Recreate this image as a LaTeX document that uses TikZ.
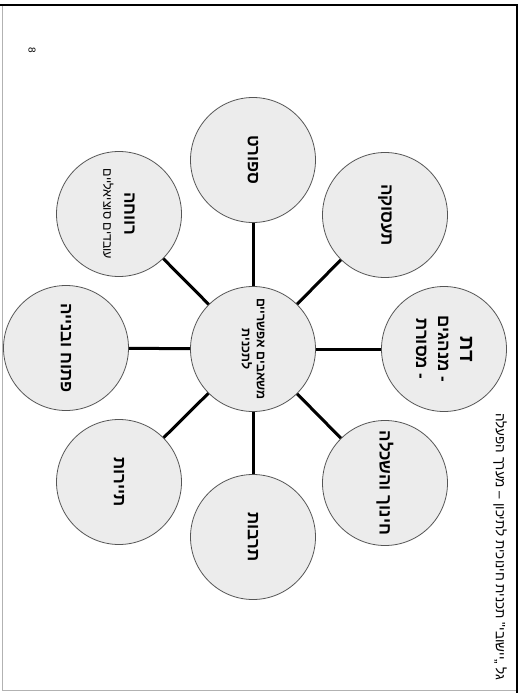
\documentclass[tikz,border=0pt]{standalone}
\usepackage{fontspec}
\usepackage{xcolor}
\usepackage{tikz}
\setmainfont{Liberation Sans}
\newfontfamily\hebfont[Script=Hebrew]{Liberation Sans}
\TeXXeTstate=1
\newcommand{\heb}[1]{\beginR #1\endR}
\definecolor{bubblefill}{HTML}{ECECEC}
\definecolor{bubbleline}{HTML}{555555}

\begin{document}
\begin{tikzpicture}[x=1pt, y=-1pt,
    bubble/.style={draw=bubbleline, line width=0.8pt, circle, fill=bubblefill,
      minimum size=125pt, inner sep=0pt, rotate=-90, align=center,
      font=\hebfont\bfseries\fontsize{17}{20}\selectfont},
    spoke/.style={line width=3pt, black}]
    \useasboundingbox (0,0) rectangle (524,693);
    \fill[white] (0,0) rectangle (524,693);
    \draw[gray!60, line width=0.6pt] (2,5) -- (2,690) -- (517,690);
    \draw[black, line width=1.5pt] (0,5) -- (517,5) -- (517,693);

    \node[rotate=-90, font=\fontsize{10}{12}\selectfont] (pagenum) at (32,50) {8};
    \node[rotate=-90, anchor=east, font=\hebfont\fontsize{13.5}{15}\selectfont] (head) at (500,684)
        {\heb{גל „יישובי" תכנית חינוכית לתיכון – מערך הפעלה}};

    \node[bubble, font=\hebfont\bfseries\fontsize{12.5}{15}\selectfont] (res) at (253,349)
        {\heb{משאבים אפשריים}\\\heb{לתכנית}};

    \node[bubble] (sport) at (253,160) {\heb{ספורט}};
    \node[bubble] (jobs) at (385,215) {\heb{תעסוקה}};
    \node[bubble] (faith) at (444,349)
        {\heb{\fontsize{20}{22}\selectfont דת}\\[2pt]\heb{- מנהגים}\\[2pt]\heb{- מסורת}};
    \node[bubble] (school) at (385,483) {\heb{חינוך והשכלה}};
    \node[bubble] (culture) at (253,537) {\heb{תרבות}};
    \node[bubble] (tour) at (119,482) {\heb{תיירות}};
    \node[bubble] (build) at (66,348) {\heb{פתוח ובנייה}};
    \node[bubble] (welfare) at (119,214)
        {\heb{רווחה}\\[1pt]\heb{\mdseries\fontsize{12.5}{14}\selectfont עובדים סוציאליים}};

    \foreach \n in {sport,jobs,faith,school,culture,tour,build,welfare}
        \draw[spoke] (res) -- (\n);
\end{tikzpicture}
\end{document}
